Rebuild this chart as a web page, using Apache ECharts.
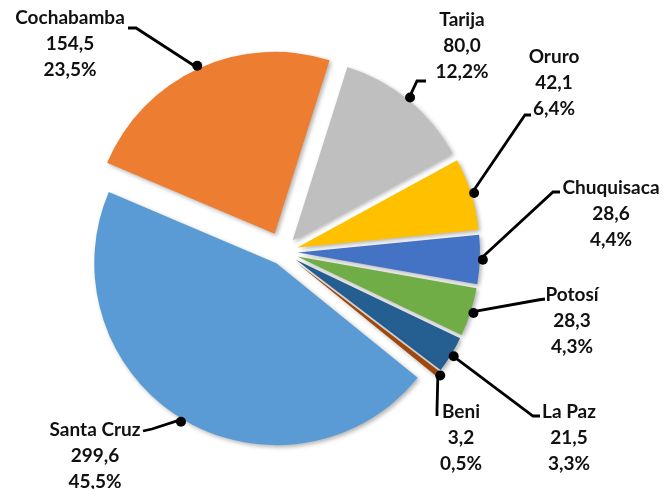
<!DOCTYPE html>
<html>
<head>
<meta charset="utf-8">
<script src="https://cdn.jsdelivr.net/npm/echarts@6/dist/echarts.min.js"></script>
<style>
html, body { margin: 0; padding: 0; background: #fff; }
#chart { width: 665px; height: 489px; }
</style>
</head>
<body>
<div id="chart"></div>
<script>
var departments = ['Cochabamba', 'Tarija', 'Oruro', 'Chuquisaca', 'Potosí', 'La Paz', 'Beni', 'Santa Cruz'];
var values = [154.5, 80.0, 42.1, 28.6, 28.3, 21.5, 3.2, 299.6];
var percents = [23.5, 12.2, 6.4, 4.4, 4.3, 3.3, 0.5, 45.5];
var colors = ['#ED7D31', '#BFBFBF', '#FFC000', '#4472C4', '#70AD47', '#255E91', '#9E480E', '#5B9BD5'];

// how far each slice is pulled out of the pie (px)
var explodeBy = [20, 15, 15, 15, 15, 15, 15, 13];

// where each label sits (text centre x, top y) and the bend + end of its leader line
var labelBoxes = [[70, 5], [462, 7], [554, 44], [611, 175], [572, 282], [569, 399], [461, 399], [95, 417]];
var leaderBends = [
    [[136, 28], [128, 28]],
    [[417, 81], [426, 81]],
    [[525, 115], [531, 115]],
    [[553, 192], [560, 192]],
    [[538, 300], [545, 299]],
    [[533, 416], [540, 416]],
    [[437, 410], [437, 416]],
    [[152, 429], [143, 431]]
];

var center = [283, 252];
var R = 182;
var startAngle = 157;

function fmt(v) {
    return v.toFixed(1).replace('.', ',');
}

var clear = 'rgba(0,0,0,0)';
var series = [];

// one visible pie and one dot ring per explosion distance
var offsets = explodeBy.filter(function (d, i) { return explodeBy.indexOf(d) === i; });
offsets.forEach(function (off) {
    series.push({
        type: 'pie',
        center: center,
        radius: R,
        startAngle: startAngle,
        selectedMode: 'multiple',
        selectedOffset: off,
        silent: true,
        label: { show: false },
        labelLine: { show: false },
        data: departments.map(function (n, i) {
            var mine = explodeBy[i] === off;
            return {
                name: n, value: values[i], selected: true,
                itemStyle: mine ? {
                    color: colors[i],
                    shadowBlur: 4, shadowOffsetX: 2, shadowOffsetY: 2,
                    shadowColor: 'rgba(0,0,0,0.3)'
                } : { color: clear }
            };
        })
    });
});
offsets.forEach(function (off) {
    series.push({
        type: 'pie',
        center: center,
        radius: [R - 6, R + 6],
        startAngle: startAngle,
        selectedMode: 'multiple',
        selectedOffset: off,
        silent: true,
        z: 5,
        itemStyle: { color: clear },
        labelLine: { show: false },
        data: departments.map(function (n, i) {
            return {
                name: n, value: values[i], selected: true,
                label: {
                    show: explodeBy[i] === off,
                    position: 'inside',
                    formatter: '{d| }',
                    rich: { d: { width: 10, height: 10, borderRadius: 5, backgroundColor: '#000' } }
                }
            };
        })
    });
});

// invisible copy that carries the labels and leader lines
series.push({
    type: 'pie',
    center: center,
    radius: R,
    startAngle: startAngle,
    silent: true,
    z: 4,
    avoidLabelOverlap: false,
    itemStyle: { color: clear },
    label: {
        show: true,
        position: 'outside',
        color: '#111',
        fontFamily: 'Lato',
        fontWeight: 'bold',
        fontSize: 19,
        lineHeight: 26,
        formatter: function (p) {
            var i = p.dataIndex;
            return departments[i] + '\n' + fmt(values[i]) + '\n' + fmt(percents[i]) + '%';
        }
    },
    labelLine: {
        show: true,
        lineStyle: { color: '#000', width: 2.8 }
    },
    labelLayout: function (p) {
        var i = p.dataIndex;
        var p0 = p.labelLinePoints[0];
        var k = (R + explodeBy[i]) / R;
        var start = [center[0] + (p0[0] - center[0]) * k, center[1] + (p0[1] - center[1]) * k];
        return {
            x: labelBoxes[i][0],
            y: labelBoxes[i][1],
            align: 'center',
            verticalAlign: 'top',
            labelLinePoints: [start, leaderBends[i][0], leaderBends[i][1]]
        };
    },
    data: departments.map(function (n, i) {
        return { name: n, value: values[i] };
    })
});

var chart = echarts.init(document.getElementById('chart'));
chart.setOption({ animation: false, series: series });
</script>
</body>
</html>
